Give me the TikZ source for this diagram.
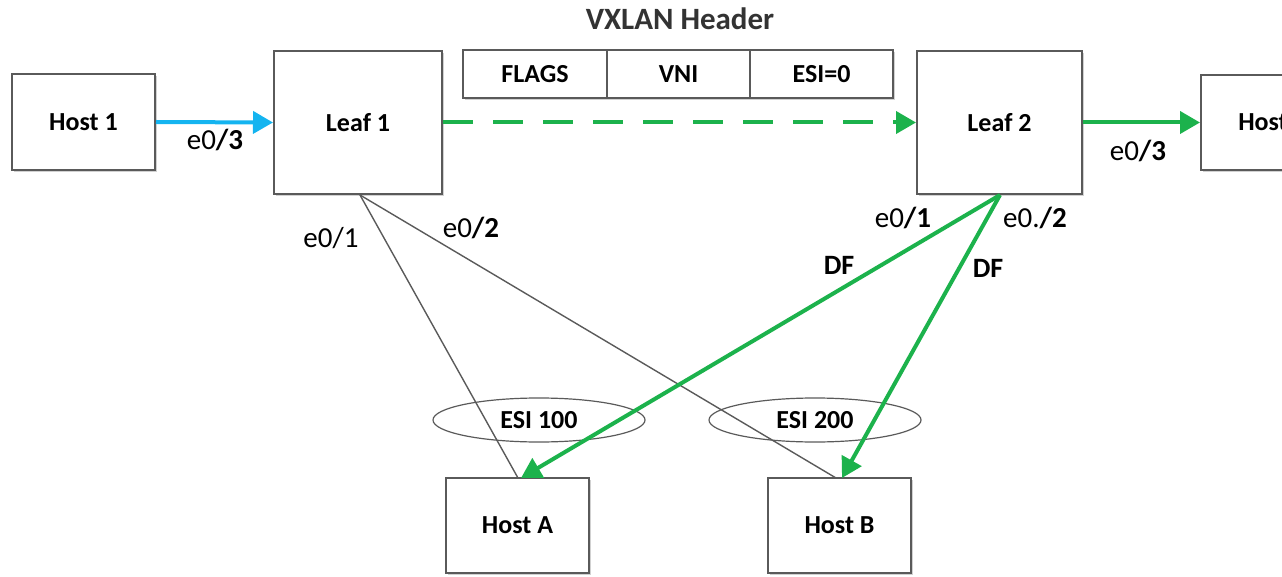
\documentclass[tikz,border=0pt]{standalone}
\usepackage{fontspec}
\setmainfont{Carlito}
\usetikzlibrary{arrows.meta,shadows,shapes.geometric}
\definecolor{lgreen}{RGB}{28,178,76}
\definecolor{lblue}{RGB}{20,180,240}
\definecolor{bord}{RGB}{90,90,90}
\tikzset{
  shd/.style={drop shadow={shadow xshift=2pt, shadow yshift=-2pt, fill=black!30, opacity=0.6}},
  box/.style={draw=bord, line width=2pt, fill=white, font=\fontsize{26}{30}\selectfont\bfseries,
     shd, inner sep=0pt},
  cell/.style={draw=bord, line width=2pt, fill=white, font=\fontsize{26}{30}\selectfont\bfseries, inner sep=0pt,
     minimum height=48, shd},
  lbl/.style={font=\fontsize{29}{32}\selectfont, inner sep=0pt},
  dflbl/.style={font=\fontsize{28}{32}\selectfont\bfseries, inner sep=0pt},
  esi/.style={draw=bord, line width=1.2pt, ellipse, minimum width=212, minimum height=44, inner sep=0pt,
     font=\fontsize{26}{30}\selectfont\bfseries},
  garrow/.style={draw=lgreen, line width=4pt, -{Triangle[length=20pt,width=22pt]}},
  thin/.style={draw=bord, line width=1.4pt}
}
\begin{document}
\begin{tikzpicture}[x=1pt,y=-1pt]
\useasboundingbox (0,0) rectangle (1282,577);
\clip (0,0) rectangle (1282,577);
% title
\node[font=\fontsize{31}{34}\selectfont\bfseries, text=black!80] (title) at (680,19) {VXLAN Header};
% boxes
\node[box, minimum width=143, minimum height=96] (h1) at (83.5,122) {Host 1};
\node[box, minimum width=168, minimum height=143] (l1) at (358,122.5) {Leaf 1};
\node[box, minimum width=165, minimum height=143] (l2) at (999.5,122.5) {Leaf 2};
\node[box, minimum width=143, minimum height=95] (h2) at (1272.5,122.5) {Host 2};
% header table
\node[cell, minimum width=144] (flags) at (535,74) {FLAGS};
\node[cell, minimum width=143] (vni) at (678.5,74) {VNI};
\node[cell, minimum width=143] (esi0) at (821.5,74) {ESI=0};
% ellipses
\node[esi] (e100) at (539,420) {ESI 100};
\node[esi] (e200) at (815,420) {ESI 200};
% bottom hosts
\coordinate (l1b) at (360,195);
\coordinate (l2b) at (1000,195);
\draw[thin] (l1b) -- (518,478) coordinate (haT);
\draw[thin] (l1b) -- (836,478) coordinate (hbT);
\node[box, minimum width=143, minimum height=95] (ha) at (517.5,525.5) {Host A};
\node[box, minimum width=143, minimum height=95] (hb) at (839.5,525.5) {Host B};
% arrows
\draw[draw=lblue, line width=4pt, -{Triangle[length=20pt,width=22pt]}] (h1.east) -- (l1.west);
\draw[garrow, dash pattern=on 30pt off 20pt] (l1.east) -- (l2.west);
\draw[garrow] (l2.east) -- (h2.west);
\draw[garrow] (l2b) -- (521,478) coordinate (haG);
\draw[garrow] (l2b) -- (842,478) coordinate (hbG);
% labels
\node[lbl] (p13) at (215,140) {e0\textbf{/3}};
\node[lbl] (p11) at (331,238) {e0/1};
\node[lbl] (p12) at (471,228) {e0\textbf{/2}};
\node[lbl] (p21) at (903,218) {e0\textbf{/1}};
\node[lbl] (p22) at (1035,218) {e0.\textbf{/2}};
\node[lbl] (p23) at (1138,151) {e0\textbf{/3}};
\node[dflbl] (df1) at (839,265) {DF};
\node[dflbl] (df2) at (988,268) {DF};
\end{tikzpicture}
\end{document}
